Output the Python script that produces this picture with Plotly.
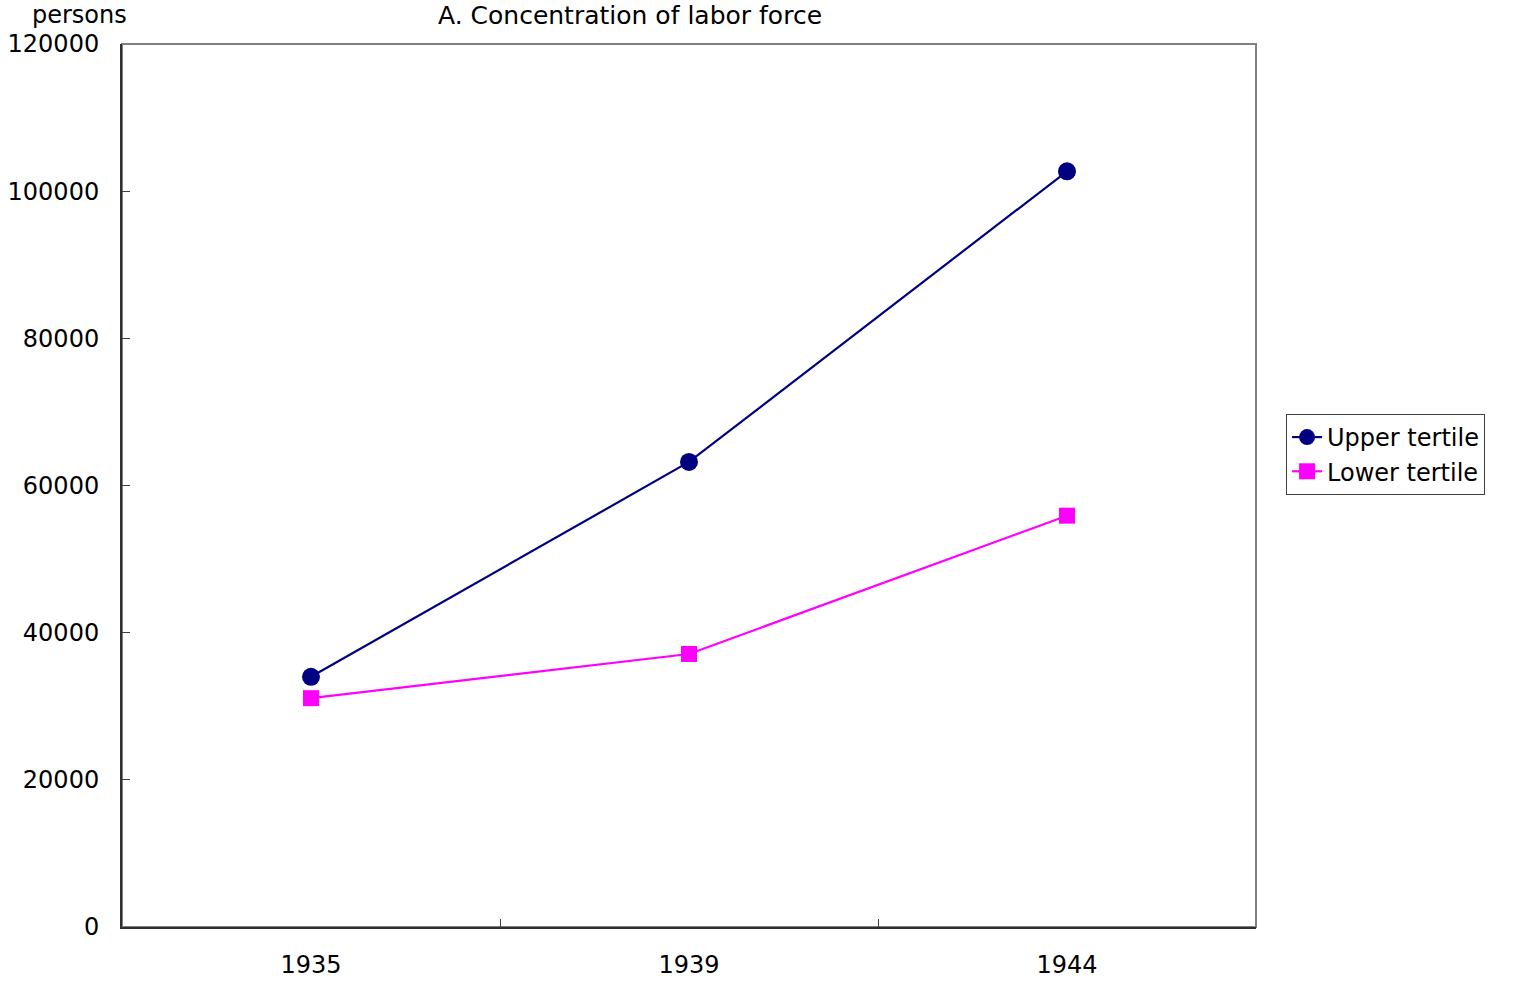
import plotly.graph_objects as go

years = ["1935", "1939", "1944"]
upper_tertile = [34000, 63200, 102700]
lower_tertile = [31100, 37100, 55900]
y_ticks = [0, 20000, 40000, 60000, 80000, 100000, 120000]

FONT = "DejaVu Sans"

fig = go.Figure()
fig.add_trace(go.Scatter(
    x=years, y=upper_tertile, name="Upper tertile", mode="lines+markers",
    line=dict(color="#000080", width=2.2),
    marker=dict(symbol="circle", size=18, color="#000080"),
))
fig.add_trace(go.Scatter(
    x=years, y=lower_tertile, name="Lower tertile", mode="lines+markers",
    line=dict(color="#FF00FF", width=2.2),
    marker=dict(symbol="square", size=16, color="#FF00FF"),
))

# gray frame on the top and right of the plot area
fig.add_shape(type="rect", xref="paper", yref="paper", x0=0, y0=0, x1=1, y1=1,
              line=dict(color="#808080", width=2), layer="below")

fig.update_layout(
    width=1514, height=984,
    margin=dict(l=122, r=258, t=44, b=57, autoexpand=False),
    paper_bgcolor="white", plot_bgcolor="white",
    font=dict(family=FONT, size=24, color="black"),
    showlegend=True,
    legend=dict(
        x=1.0265, y=0.581, xanchor="left", yanchor="top",
        bordercolor="#404040", borderwidth=1,
        font=dict(family=FONT, size=24, color="black"),
        tracegroupgap=0, itemsizing="trace",
    ),
    annotations=[
        dict(text="A. Concentration of labor force", xref="paper", yref="paper",
             x=(630 - 122) / 1134, y=1, yshift=29, xanchor="center", yanchor="middle",
             showarrow=False, font=dict(family=FONT, size=25)),
        dict(text="persons", xref="paper", yref="paper",
             x=(79 - 122) / 1134, y=1, yshift=29, xanchor="center", yanchor="middle",
             showarrow=False, font=dict(family=FONT, size=24)),
    ],
)

fig.update_xaxes(
    type="category", range=[-0.5, 2.5], tickson="boundaries",
    ticks="inside", ticklen=8, tickwidth=1, tickcolor="#404040",
    showline=True, linecolor="#303030", linewidth=2,
    showgrid=False, zeroline=False, ticklabelstandoff=15, automargin=False,
    tickfont=dict(family=FONT, size=24),
)
fig.update_yaxes(
    range=[0, 120000], tickvals=y_ticks, tickformat="d",
    ticks="inside", ticklen=8, tickwidth=1, tickcolor="#404040",
    showline=True, linecolor="#303030", linewidth=2,
    showgrid=False, zeroline=False, ticklabelstandoff=16, automargin=False,
    tickfont=dict(family=FONT, size=24),
)

fig.write_html("out.html")
